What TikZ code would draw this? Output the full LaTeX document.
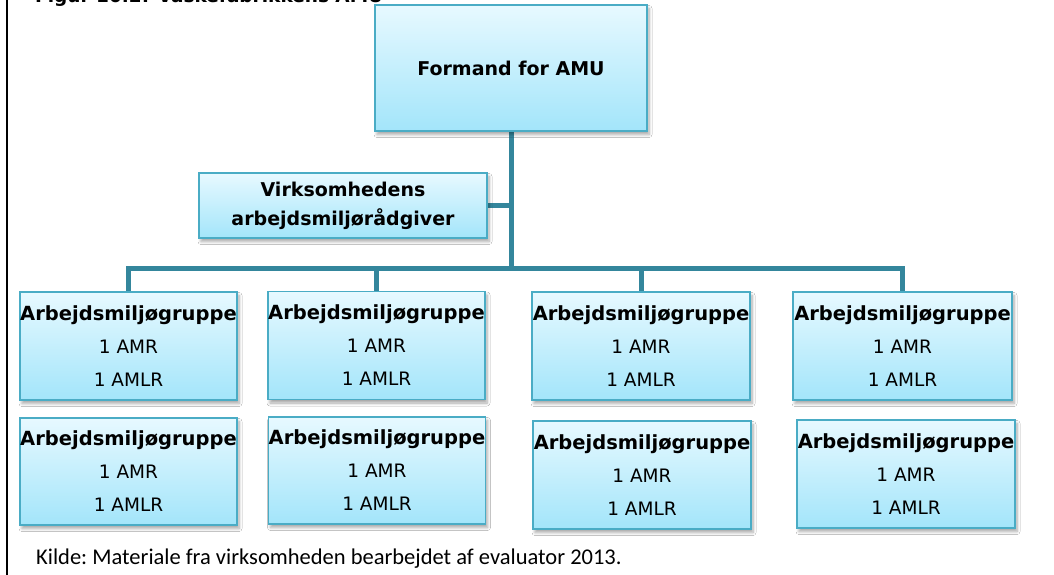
\documentclass[tikz,border=0pt]{standalone}
\usepackage{fontspec}
\usetikzlibrary{shadows.blur,backgrounds}
\newfontfamily\boxfont{DejaVu Sans}
\newfontfamily\notefont{Carlito}
\definecolor{boxline}{RGB}{74,172,197}
\definecolor{boxtop}{RGB}{231,249,255}
\definecolor{boxbottom}{RGB}{163,229,250}
\definecolor{connline}{RGB}{52,134,156}
\tikzset{
  orgbox/.style={draw=boxline, line width=1.4pt, top color=boxtop, bottom color=boxbottom,
    align=center, inner sep=0pt, text=black,
    blur shadow={shadow xshift=2pt, shadow yshift=-3.5pt, shadow blur radius=3pt, shadow blur steps=6, shadow opacity=35}},
  groupbox/.style={orgbox, minimum width=217pt, minimum height=108pt, font=\boxfont\fontsize{18.5}{33}\selectfont},
  conn/.style={draw=connline, line width=5pt, line join=miter},
}
\newcommand{\grouptext}{{\fontsize{19.5}{33}\selectfont\bfseries Arbejdsmiljøgruppe}\\1 AMR\\1 AMLR}
\begin{document}
\begin{tikzpicture}[x=1pt,y=-1pt]
\useasboundingbox (0,0) rectangle (1054,575);
\begin{scope}
\clip (0,0) rectangle (1054,575);
% frame line on the left and the cut-off figure heading
\draw[line width=1.5pt] (7,0) -- (7,575);
\node[anchor=base west, inner sep=0pt, font=\boxfont\bfseries\fontsize{18.5}{22}\selectfont] (title) at (35,3) {Figur 10.2: Vaskefabrikkens AMU};
\end{scope}

% boxes
\node[orgbox, minimum width=272pt, minimum height=126pt, font=\boxfont\bfseries\fontsize{19}{22}\selectfont] (chair) at (511,68) {Formand for AMU};
\node[orgbox, minimum width=288pt, minimum height=65pt, font=\boxfont\bfseries\fontsize{19}{29}\selectfont] (adv) at (343,205.5) {Virksomhedens\\arbejdsmiljørådgiver};

\node[groupbox] (g1) at (128.5,346) {\grouptext};
\node[groupbox] (g2) at (376.5,345.5) {\grouptext};
\node[groupbox, minimum width=218pt] (g3) at (641,346) {\grouptext};
\node[groupbox, minimum width=219pt] (g4) at (902.5,346) {\grouptext};
\node[groupbox, minimum height=107pt] (g5) at (128.5,471.5) {\grouptext};
\node[groupbox, minimum height=107pt] (g6) at (377,470.5) {\grouptext};
\node[groupbox, minimum width=218pt] (g7) at (642,475) {\grouptext};
\node[groupbox, minimum width=218pt] (g8) at (906,474) {\grouptext};

\coordinate (hub) at (511,268);

% white page and connectors, both behind the boxes
\begin{scope}[on background layer]
\fill[white] (0,0) rectangle (1054,575);
\draw[conn] (chair.south) -- (hub);
\draw[conn] (adv.east) -- (adv.east -| hub);
\draw[conn] (g1.north) -- (g1.north |- hub) -| (g4.north);
\draw[conn] (g2.north) -- (g2.north |- hub);
\draw[conn] (g3.north) -- (g3.north |- hub);
\end{scope}

% source note
\node[anchor=base west, inner sep=0pt, font=\notefont\fontsize{22.5}{26}\selectfont] (note) at (36,564) {\frenchspacing Kilde: Materiale fra virksomheden bearbejdet af evaluator 2013.};
\end{tikzpicture}
\end{document}
